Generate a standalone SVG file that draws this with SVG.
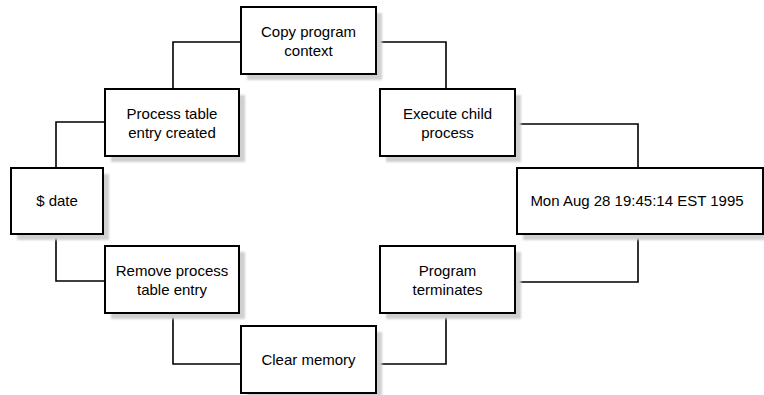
<svg xmlns="http://www.w3.org/2000/svg" width="764" height="395" viewBox="0 0 764 395">
<defs>
<filter id="sh" x="-10%" y="-10%" width="130%" height="140%"><feGaussianBlur stdDeviation="1"/></filter>
</defs>
<style>
.shadow{fill:#cfcfcf;filter:url(#sh)}
.box{fill:#fff;stroke:#000;stroke-width:2}
.lbl{font-family:"Liberation Sans",Arial,sans-serif;font-size:15px;fill:#000;text-anchor:middle}
.conn{fill:none;stroke:#000;stroke-width:1.6}
</style>
<rect width="764" height="395" fill="#fff"/>
<g id="connectors">
<polyline class="conn" points="241,42 173,42 173,89"/>
<polyline class="conn" points="376,42 446,42 446,89"/>
<polyline class="conn" points="105,122 56,122 56,168"/>
<polyline class="conn" points="515,124 638,124 638,168"/>
<polyline class="conn" points="638,234 638,282 515,282"/>
<polyline class="conn" points="56,234 56,281 105,281"/>
<polyline class="conn" points="173,313 173,364 241,364"/>
<polyline class="conn" points="446,313 446,364 376,364"/>
</g>
<g id="copy">
<rect class="shadow" x="247" y="13" width="135" height="67"/>
<rect class="box" x="241" y="7" width="135" height="67"/>
<text class="lbl" x="308.5" y="37">Copy program</text>
<text class="lbl" x="308.5" y="56">context</text>
</g>
<g id="process">
<rect class="shadow" x="111" y="95" width="134" height="67"/>
<rect class="box" x="105" y="89" width="134" height="67"/>
<text class="lbl" x="172" y="119">Process table</text>
<text class="lbl" x="172" y="138">entry created</text>
</g>
<g id="execute">
<rect class="shadow" x="386" y="95" width="135" height="67"/>
<rect class="box" x="380" y="89" width="135" height="67"/>
<text class="lbl" x="447.5" y="119">Execute child</text>
<text class="lbl" x="447.5" y="138">process</text>
</g>
<g id="date">
<rect class="shadow" x="17" y="174" width="92" height="66"/>
<rect class="box" x="11" y="168" width="92" height="66"/>
<text class="lbl" x="57" y="206">$ date</text>
</g>
<g id="output">
<rect class="shadow" x="523" y="174" width="246" height="66"/>
<rect class="box" x="517" y="168" width="246" height="66"/>
<text class="lbl" x="637" y="206">Mon Aug 28 19:45:14 EST 1995</text>
</g>
<g id="remove">
<rect class="shadow" x="111" y="252" width="134" height="67"/>
<rect class="box" x="105" y="246" width="134" height="67"/>
<text class="lbl" x="172" y="276">Remove process</text>
<text class="lbl" x="172" y="295">table entry</text>
</g>
<g id="terminates">
<rect class="shadow" x="386" y="252" width="135" height="67"/>
<rect class="box" x="380" y="246" width="135" height="67"/>
<text class="lbl" x="447.5" y="276">Program</text>
<text class="lbl" x="447.5" y="295">terminates</text>
</g>
<g id="clear">
<rect class="shadow" x="247" y="332" width="135" height="67"/>
<rect class="box" x="241" y="326" width="135" height="67"/>
<text class="lbl" x="308.5" y="365">Clear memory</text>
</g>
</svg>
